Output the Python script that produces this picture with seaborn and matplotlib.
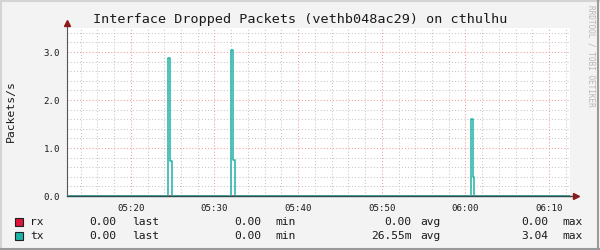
import matplotlib
matplotlib.use("Agg")
import matplotlib.pyplot as plt
import matplotlib.dates as mdates
from matplotlib.lines import Line2D
import pandas as pd
import seaborn as sns

# ---- data ----
day = "2024-01-01 "
rx_times = ["05:12:22", "06:12:30"]
rx_values = [0.0, 0.0]
tx_times = ["05:12:22", "05:24:30", "05:24:40", "05:24:52",
            "05:32:00", "05:32:12", "05:32:26",
            "06:00:40", "06:00:52", "06:01:04", "06:12:30"]
tx_values = [0.0, 2.88, 0.73, 0.0,
             3.04, 0.75, 0.0,
             1.60, 0.39, 0.0, 0.0]
series_names = ["rx", "tx"]
series_colors = ["#dc143c", "#20b2a6"]
legend_last = ["0.00", "0.00"]
legend_min = ["0.00", "0.00"]
legend_avg = ["0.00", "26.55m"]
legend_max = ["0.00", "3.04"]
title = "Interface Dropped Packets (vethb048ac29) on cthulhu"
ylabel = "Packets/s"
x_start, x_end = "05:12:22", "06:12:30"

df = pd.concat([
    pd.DataFrame({"time": pd.to_datetime([day + t for t in rx_times]),
                  "value": rx_values, "series": "rx"}),
    pd.DataFrame({"time": pd.to_datetime([day + t for t in tx_times]),
                  "value": tx_values, "series": "tx"}),
], ignore_index=True)

sns.set_theme(style="white")
mono = "DejaVu Sans Mono"
plt.rcParams["font.family"] = [mono]

fig = plt.figure(figsize=(6, 2.5), dpi=100, facecolor="#f3f3f3")
ax = fig.add_axes([67 / 600, 1 - 196 / 250, (570 - 67) / 600, (196 - 28) / 250])
ax.set_facecolor("white")

sns.lineplot(data=df, x="time", y="value", hue="series", hue_order=series_names,
             palette=dict(zip(series_names, series_colors)), estimator=None,
             sort=False, drawstyle="steps-post", linewidth=1.1, ax=ax,
             legend=False, zorder=3)

ax.set_xlim(pd.Timestamp(day + x_start), pd.Timestamp(day + x_end))
ax.set_ylim(0, 3.5)
ax.xaxis.set_major_locator(mdates.MinuteLocator(byminute=range(0, 60, 10)))
ax.xaxis.set_minor_locator(mdates.MinuteLocator(byminute=range(0, 60, 2)))
ax.xaxis.set_major_formatter(mdates.DateFormatter("%H:%M"))
ax.yaxis.set_major_locator(matplotlib.ticker.MultipleLocator(1.0))
ax.yaxis.set_minor_locator(matplotlib.ticker.MultipleLocator(0.2))
ax.yaxis.set_major_formatter(matplotlib.ticker.FormatStrFormatter("%.1f"))
ax.set_xlabel("")
ax.set_ylabel("")

ax.grid(which="major", color="#f09a9a", linestyle=(0, (1, 2)), linewidth=0.75)
ax.grid(which="minor", color="#c6c6c6", linestyle=(0, (1, 2)), linewidth=0.75)
ax.set_axisbelow(True)

ax.tick_params(which="major", direction="inout", length=4, width=0.7,
               color="#606060", labelsize=6.6, labelcolor="#1a1a1a", pad=3)
ax.tick_params(which="minor", direction="in", length=2, width=0.6, color="#909090")
ax.tick_params(axis="x", which="major", pad=3.5)

for s in ["top", "right"]:
    ax.spines[s].set_visible(False)
ax.spines["left"].set_color("#555555")
ax.spines["left"].set_linewidth(0.8)
ax.spines["bottom"].set_color("#2c4f4b")
ax.spines["bottom"].set_linewidth(1.0)
ax.spines["bottom"].set_zorder(2.5)

# axis arrows (extending beyond the plot area)
ax.add_line(Line2D([0, 0], [1, 1.02], transform=ax.transAxes, color="#555555",
                   lw=0.8, clip_on=False))
ax.add_line(Line2D([1, 1.008], [0, 0], transform=ax.transAxes, color="#2c4f4b",
                   lw=1.0, clip_on=False))
ax.plot([0], [1.03], marker="^", markersize=4, color="#8b1a1a",
        transform=ax.transAxes, clip_on=False)
ax.plot([1.011], [0], marker=">", markersize=4, color="#8b1a1a",
        transform=ax.transAxes, clip_on=False)

# title / labels
fig.text(0.5, 1 - 19.5 / 250, title, ha="center", va="center",
         fontsize=9.7, color="#1a1a1a", family=mono)
fig.text(11 / 600, 1 - 111 / 250, ylabel, rotation=90, ha="center", va="center",
         fontsize=8.2, color="#1a1a1a", family=mono)
fig.text(591 / 600, 1 - 5 / 250, "RRDTOOL / TOBI OETIKER", rotation=-90,
         ha="center", va="top", fontsize=5.6, color="#b8b8b8", family=mono)

# legend rows
rows_y = [222, 236]
for i, name in enumerate(series_names):
    yf = 1 - rows_y[i] / 250
    fig.patches.append(plt.Rectangle((15 / 600, 1 - (rows_y[i] + 4) / 250),
                                     8 / 600, 8 / 250, transform=fig.transFigure,
                                     facecolor=series_colors[i], edgecolor="#202020",
                                     linewidth=0.8))
    kw = dict(va="center", fontsize=8.1, color="#1a1a1a", family=mono)
    fig.text(30.5 / 600, yf, name, ha="left", **kw)
    fig.text(116.7 / 600, yf, legend_last[i], ha="right", **kw)
    fig.text(132 / 600, yf, "last", ha="left", **kw)
    fig.text(261.4 / 600, yf, legend_min[i], ha="right", **kw)
    fig.text(275.5 / 600, yf, "min", ha="left", **kw)
    fig.text(411.4 / 600, yf, legend_avg[i], ha="right", **kw)
    fig.text(419.8 / 600, yf, "avg", ha="left", **kw)
    fig.text(548.4 / 600, yf, legend_max[i], ha="right", **kw)
    fig.text(562.6 / 600, yf, "max", ha="left", **kw)

# 3D-ish frame around the image
fig.add_artist(Line2D([0, 1], [0.998, 0.998], transform=fig.transFigure,
                      color="#d4d4d4", lw=1.5))
fig.add_artist(Line2D([0.002, 0.002], [0, 1], transform=fig.transFigure,
                      color="#d4d4d4", lw=1.5))
fig.add_artist(Line2D([0, 1], [0.004, 0.004], transform=fig.transFigure,
                      color="#9a9a9a", lw=1.5))
fig.add_artist(Line2D([0.997, 0.997], [0, 1], transform=fig.transFigure,
                      color="#9a9a9a", lw=1.5))

fig.savefig("out.png", dpi=100, facecolor=fig.get_facecolor())
